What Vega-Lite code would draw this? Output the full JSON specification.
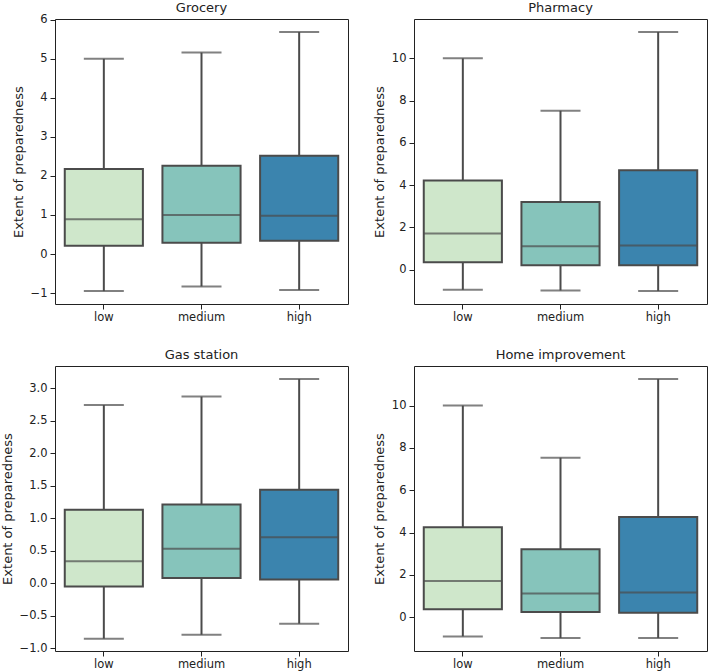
{
  "$schema": "https://vega.github.io/schema/vega-lite/v6.json",
  "padding": {"left": 0, "top": 1, "right": 2, "bottom": 2},
  "background": "white",
  "datasets": {
    "boxes": [
      {"panel": "Grocery", "level": "low", "lower": -0.95, "q1": 0.21, "median": 0.89, "q3": 2.18, "upper": 5.0},
      {"panel": "Grocery", "level": "medium", "lower": -0.83, "q1": 0.29, "median": 1.0, "q3": 2.26, "upper": 5.16},
      {"panel": "Grocery", "level": "high", "lower": -0.92, "q1": 0.34, "median": 0.98, "q3": 2.52, "upper": 5.69},
      {"panel": "Pharmacy", "level": "low", "lower": -0.95, "q1": 0.36, "median": 1.71, "q3": 4.22, "upper": 10.0},
      {"panel": "Pharmacy", "level": "medium", "lower": -0.98, "q1": 0.21, "median": 1.11, "q3": 3.21, "upper": 7.52},
      {"panel": "Pharmacy", "level": "high", "lower": -1.01, "q1": 0.21, "median": 1.15, "q3": 4.71, "upper": 11.25},
      {"panel": "Gas station", "level": "low", "lower": -0.85, "q1": -0.05, "median": 0.34, "q3": 1.13, "upper": 2.74},
      {"panel": "Gas station", "level": "medium", "lower": -0.79, "q1": 0.08, "median": 0.53, "q3": 1.21, "upper": 2.87},
      {"panel": "Gas station", "level": "high", "lower": -0.62, "q1": 0.06, "median": 0.71, "q3": 1.44, "upper": 3.14},
      {"panel": "Home improvement", "level": "low", "lower": -0.9, "q1": 0.38, "median": 1.72, "q3": 4.25, "upper": 10.0},
      {"panel": "Home improvement", "level": "medium", "lower": -0.98, "q1": 0.25, "median": 1.12, "q3": 3.21, "upper": 7.54},
      {"panel": "Home improvement", "level": "high", "lower": -0.98, "q1": 0.22, "median": 1.17, "q3": 4.74, "upper": 11.26}
    ]
  },
  "columns": 2,
  "bounds": "flush",
  "spacing": {"row": 62, "column": 66},
  "concat": [
    {
      "title": {"text": "Grocery", "offset": -1},
      "width": 293, "height": 285,
      "data": {"name": "boxes"},
      "transform": [{"filter": "datum.panel === 'Grocery'"}],
      "encoding": {
        "x": {"field": "level", "type": "nominal", "sort": ["low", "medium", "high"], "scale": {"paddingInner": 0, "paddingOuter": 0}, "axis": {"title": null, "labelAngle": 0, "labelPadding": 2}}
      },
      "layer": [
        {"mark": {"type": "rule", "color": "#4b4b4b", "strokeWidth": 2}, "encoding": {"y": {"field": "lower", "type": "quantitative", "scale": {"domain": [-1.28, 6.02], "nice": false, "zero": false}, "axis": {"title": "Extent of preparedness", "values": [-1, 0, 1, 2, 3, 4, 5, 6], "tickCount": 8, "labelOverlap": false, "format": "d"}}, "y2": {"field": "upper"}}},
        {"mark": {"type": "tick", "color": "#4b4b4b", "size": 40, "thickness": 2}, "encoding": {"y": {"field": "lower", "type": "quantitative"}}},
        {"mark": {"type": "tick", "color": "#4b4b4b", "size": 40, "thickness": 2}, "encoding": {"y": {"field": "upper", "type": "quantitative"}}},
        {"mark": {"type": "bar", "width": {"band": 0.8}, "stroke": "#4b4b4b", "strokeWidth": 2}, "encoding": {"y": {"field": "q1", "type": "quantitative"}, "y2": {"field": "q3"}, "fill": {"field": "level", "type": "nominal", "scale": {"domain": ["low", "medium", "high"], "range": ["#cfe7cb", "#86c4bb", "#3b84ae"]}, "legend": null}}},
        {"mark": {"type": "tick", "color": "#4b4b4b", "size": 78, "thickness": 2}, "encoding": {"y": {"field": "median", "type": "quantitative"}}}
      ]
    },
    {
      "title": "Pharmacy",
      "width": 293, "height": 285,
      "data": {"name": "boxes"},
      "transform": [{"filter": "datum.panel === 'Pharmacy'"}],
      "encoding": {
        "x": {"field": "level", "type": "nominal", "sort": ["low", "medium", "high"], "scale": {"paddingInner": 0, "paddingOuter": 0}, "axis": {"title": null, "labelAngle": 0, "labelPadding": 2}}
      },
      "layer": [
        {"mark": {"type": "rule", "color": "#4b4b4b", "strokeWidth": 2}, "encoding": {"y": {"field": "lower", "type": "quantitative", "scale": {"domain": [-1.62, 11.86], "nice": false, "zero": false}, "axis": {"title": "Extent of preparedness", "values": [0, 2, 4, 6, 8, 10], "tickCount": 6, "labelOverlap": false, "format": "d"}}, "y2": {"field": "upper"}}},
        {"mark": {"type": "tick", "color": "#4b4b4b", "size": 40, "thickness": 2}, "encoding": {"y": {"field": "lower", "type": "quantitative"}}},
        {"mark": {"type": "tick", "color": "#4b4b4b", "size": 40, "thickness": 2}, "encoding": {"y": {"field": "upper", "type": "quantitative"}}},
        {"mark": {"type": "bar", "width": {"band": 0.8}, "stroke": "#4b4b4b", "strokeWidth": 2}, "encoding": {"y": {"field": "q1", "type": "quantitative"}, "y2": {"field": "q3"}, "fill": {"field": "level", "type": "nominal", "scale": {"domain": ["low", "medium", "high"], "range": ["#cfe7cb", "#86c4bb", "#3b84ae"]}, "legend": null}}},
        {"mark": {"type": "tick", "color": "#4b4b4b", "size": 78, "thickness": 2}, "encoding": {"y": {"field": "median", "type": "quantitative"}}}
      ]
    },
    {
      "title": "Gas station",
      "width": 293, "height": 285,
      "data": {"name": "boxes"},
      "transform": [{"filter": "datum.panel === 'Gas station'"}],
      "encoding": {
        "x": {"field": "level", "type": "nominal", "sort": ["low", "medium", "high"], "scale": {"paddingInner": 0, "paddingOuter": 0}, "axis": {"title": null, "labelAngle": 0, "labelPadding": 2}}
      },
      "layer": [
        {"mark": {"type": "rule", "color": "#4b4b4b", "strokeWidth": 2}, "encoding": {"y": {"field": "lower", "type": "quantitative", "scale": {"domain": [-1.04, 3.34], "nice": false, "zero": false}, "axis": {"title": "Extent of preparedness", "values": [-1, -0.5, 0, 0.5, 1, 1.5, 2, 2.5, 3], "tickCount": 9, "labelOverlap": false, "format": ".1f"}}, "y2": {"field": "upper"}}},
        {"mark": {"type": "tick", "color": "#4b4b4b", "size": 40, "thickness": 2}, "encoding": {"y": {"field": "lower", "type": "quantitative"}}},
        {"mark": {"type": "tick", "color": "#4b4b4b", "size": 40, "thickness": 2}, "encoding": {"y": {"field": "upper", "type": "quantitative"}}},
        {"mark": {"type": "bar", "width": {"band": 0.8}, "stroke": "#4b4b4b", "strokeWidth": 2}, "encoding": {"y": {"field": "q1", "type": "quantitative"}, "y2": {"field": "q3"}, "fill": {"field": "level", "type": "nominal", "scale": {"domain": ["low", "medium", "high"], "range": ["#cfe7cb", "#86c4bb", "#3b84ae"]}, "legend": null}}},
        {"mark": {"type": "tick", "color": "#4b4b4b", "size": 78, "thickness": 2}, "encoding": {"y": {"field": "median", "type": "quantitative"}}}
      ]
    },
    {
      "title": "Home improvement",
      "width": 293, "height": 285,
      "data": {"name": "boxes"},
      "transform": [{"filter": "datum.panel === 'Home improvement'"}],
      "encoding": {
        "x": {"field": "level", "type": "nominal", "sort": ["low", "medium", "high"], "scale": {"paddingInner": 0, "paddingOuter": 0}, "axis": {"title": null, "labelAngle": 0, "labelPadding": 2}}
      },
      "layer": [
        {"mark": {"type": "rule", "color": "#4b4b4b", "strokeWidth": 2}, "encoding": {"y": {"field": "lower", "type": "quantitative", "scale": {"domain": [-1.59, 11.87], "nice": false, "zero": false}, "axis": {"title": "Extent of preparedness", "values": [0, 2, 4, 6, 8, 10], "tickCount": 6, "labelOverlap": false, "format": "d"}}, "y2": {"field": "upper"}}},
        {"mark": {"type": "tick", "color": "#4b4b4b", "size": 40, "thickness": 2}, "encoding": {"y": {"field": "lower", "type": "quantitative"}}},
        {"mark": {"type": "tick", "color": "#4b4b4b", "size": 40, "thickness": 2}, "encoding": {"y": {"field": "upper", "type": "quantitative"}}},
        {"mark": {"type": "bar", "width": {"band": 0.8}, "stroke": "#4b4b4b", "strokeWidth": 2}, "encoding": {"y": {"field": "q1", "type": "quantitative"}, "y2": {"field": "q3"}, "fill": {"field": "level", "type": "nominal", "scale": {"domain": ["low", "medium", "high"], "range": ["#cfe7cb", "#86c4bb", "#3b84ae"]}, "legend": null}}},
        {"mark": {"type": "tick", "color": "#4b4b4b", "size": 78, "thickness": 2}, "encoding": {"y": {"field": "median", "type": "quantitative"}}}
      ]
    }
  ],
  "config": {
    "font": "DejaVu Sans",
    "view": {"stroke": "#222222", "strokeWidth": 1},
    "axis": {"domain": false, "grid": false, "tickColor": "#222222", "tickSize": 5, "tickWidth": 1, "labelColor": "#222222", "labelFontSize": 11.5, "labelPadding": 3, "labelOverlap": false, "titleFontSize": 13, "titleFontWeight": "normal", "titleColor": "#222222", "titlePadding": 5},
    "title": {"fontSize": 13, "fontWeight": "normal", "offset": 4, "color": "#222222"}
  }
}
